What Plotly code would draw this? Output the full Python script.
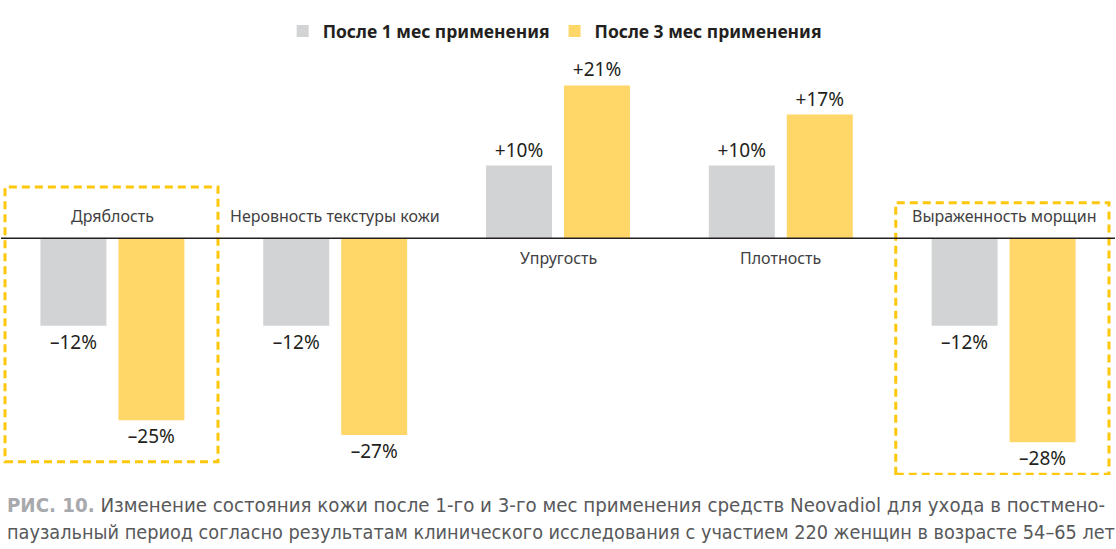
import plotly.graph_objects as go

# data
categories = ["Дряблость", "Неровность текстуры кожи", "Упругость", "Плотность", "Выраженность морщин"]
month1 = [-12, -12, 10, 10, -12]
month3 = [-25, -27, 21, 17, -28]
series_names = ["После 1 мес применения", "После 3 мес применения"]
caption_lines = [
    "<b><span style='color:#A7A9AC'>РИС. 10.</span></b> Изменение состояния кожи после 1-го и 3-го мес применения средств Neovadiol для ухода в постмено-",
    "паузальный период согласно результатам клинического исследования с участием 220 женщин в возрасте 54–65 лет",
]

GRAY = "#D1D3D4"
YELLOW = "#FFD668"
BOX = "#FDC70C"
FONT = "Noto Sans"

W, H = 1116, 549
T, B = 55, 74
PH = H - T - B


def pct(v):
    return ("+%d%%" % v) if v > 0 else ("–%d%%" % abs(v))


def py(pixel_y):
    # pixel row -> paper y
    return (H - B - pixel_y) / PH


fig = go.Figure()
for name, vals, col in [(series_names[0], month1, GRAY), (series_names[1], month3, YELLOW)]:
    fig.add_trace(go.Bar(
        x=categories, y=vals, name=name,
        marker=dict(color=col, line=dict(width=0)),
        text=[pct(v) for v in vals], textposition="outside",
        textfont=dict(family=FONT, size=19, color="#231F20"),
        cliponaxis=False,
    ))

# category labels sit on the opposite side of the bars
for i, c in enumerate(categories):
    neg = month1[i] < 0
    fig.add_annotation(
        x=c, y=0, xref="x", yref="y", text=c, showarrow=False,
        yanchor="bottom" if neg else "top", yshift=9 if neg else -7,
        font=dict(family=FONT, size=16, color="#414042"),
    )

# dashed highlight boxes (category index units)
for x0, x1, y0, y1 in [(-0.482, 0.474, -30.7, 7.05), (3.516, 4.473, -32.4, 4.9)]:
    fig.add_shape(type="rect", xref="x", yref="y", x0=x0, x1=x1, y0=y0, y1=y1,
                  line=dict(color=BOX, width=3, dash="8px,5px"), layer="above")

fig.add_hline(y=0, line=dict(color="#231F20", width=1.5))

for line, pix, fs in zip(caption_lines, [505, 532], [20.3, 19.7]):
    fig.add_annotation(
        x=0.004, xref="paper", xanchor="left", y=py(pix), yref="paper",
        text=line, showarrow=False, yanchor="middle",
        font=dict(family="DejaVu Sans Condensed", size=fs, color="#58595B"),
    )

fig.update_layout(
    width=W, height=H,
    margin=dict(l=1, r=1, t=T, b=B, autoexpand=False),
    paper_bgcolor="white", plot_bgcolor="white",
    barmode="group", bargap=0.3, bargroupgap=0.154,
    showlegend=True,
    legend=dict(orientation="h", x=0.497, xanchor="center", y=py(31), yanchor="middle",
                font=dict(family=FONT, size=17.5, color="#231F20", weight="bold"),
                itemwidth=30, traceorder="normal"),
    xaxis=dict(range=[-0.5, 4.5], showticklabels=False, showgrid=False, zeroline=False, showline=False),
    yaxis=dict(range=[-32.51, 25.18], showticklabels=False, showgrid=False, zeroline=False),
)

# drop the default page margin so the figure sits at the window corner
fig.write_html("out.html", config={"displayModeBar": False},
               post_script="document.body.style.margin='0';")
